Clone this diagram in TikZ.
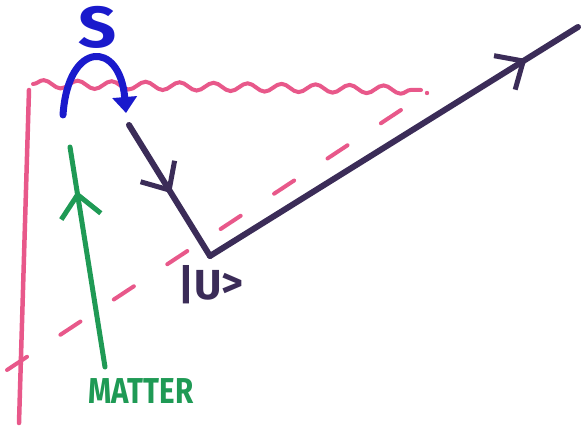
\documentclass[tikz,border=0pt]{standalone}
\usepackage{fontspec}
\setmainfont{Fira Sans}
\usetikzlibrary{positioning,arrows.meta,decorations.pathmorphing,decorations.markings}
\definecolor{uWall}{HTML}{E8588A}
\definecolor{uMatter}{HTML}{1F9A55}
\definecolor{uSpin}{HTML}{1A1ACC}
\definecolor{uPath}{HTML}{3B2C58}
\tikzset{
  wall/.style={draw=uWall, line width=4.5pt, line cap=round},
  wave/.style={wall, line width=4pt, decorate,
               decoration={snake, segment length=34pt, amplitude=4pt}},
  horizon/.style={wall, line width=4pt, dash pattern=on 24pt off 40pt},
  % barbed arrow head sitting in the middle of a stroke
  midbarb/.style={postaction={decorate}, decoration={markings,
      mark=at position #1 with {\arrow{Straight Barb[length=22pt, width=40pt, line width=5pt]}}}},
  world/.style={draw=uMatter, line width=5pt, line cap=round},
  ray/.style={draw=uPath, line width=6pt, line cap=round, line join=round},
  spin/.style={draw=uSpin, line width=7pt, line cap=round,
               -{Triangle[length=16pt, width=24pt]}},
  lbl/.style={font=\bfseries, inner sep=0pt},
}

\begin{document}
\begin{tikzpicture}[x=1pt, y=-1pt]
\useasboundingbox (0,0) rectangle (582,429);

%% ── the frame: wall on the left, wavy edge on top, dashed horizon ──────
\coordinate (wallTop) at (29,90);
\coordinate (wallBot) at (19,423);
\coordinate (waveL)   at (33,84);
\coordinate (waveR)   at (421,90);
\coordinate (horL)    at (7,370);
\coordinate (horR)    at (404,108);
\draw[wall] (wallTop) -- (wallBot);
\draw[wave] (waveL) -- (waveR);
\fill[uWall] (427,93) circle (2.2pt);
\draw[horizon] (horL) -- (horR);

%% ── matter worldline, going up ──────────────────────────────────────────
\node[lbl, text=uMatter, font=\bfseries\fontsize{36}{36}\selectfont, xscale=0.82]
  (matter) at (141,391) {MATTER};
\coordinate (mBot) at (105,367);
\coordinate (mTop) at (70,147);
\draw[world, midbarb=0.8] (mBot) -- (mTop);

%% ── the spin flip S ─────────────────────────────────────────────────────
\node[lbl, text=uSpin, font=\bfseries\fontsize{58}{58}\selectfont, xscale=1.15]
  (spin) at (98,27) {S};
\coordinate (sL) at (63,115);
\coordinate (sR) at (126,113);
\draw[spin] (sL) .. controls (68,40) and (120,40) .. (sR);

%% ── the ray into |U> and back out ───────────────────────────────────────
\coordinate (rIn)  at (129,125);
\coordinate (rKnk) at (210,256);
\coordinate (rOut) at (578,27);
\draw[ray, midbarb=0.52] (rIn) -- (rKnk);
\draw[ray, midbarb=0.86] (rKnk) -- (rOut);
\node[lbl, text=uPath, font=\bfseries\fontsize{42}{42}\selectfont] (ket) at (211,285)
  {|U\raisebox{2pt}{>}};

\end{tikzpicture}
\end{document}
